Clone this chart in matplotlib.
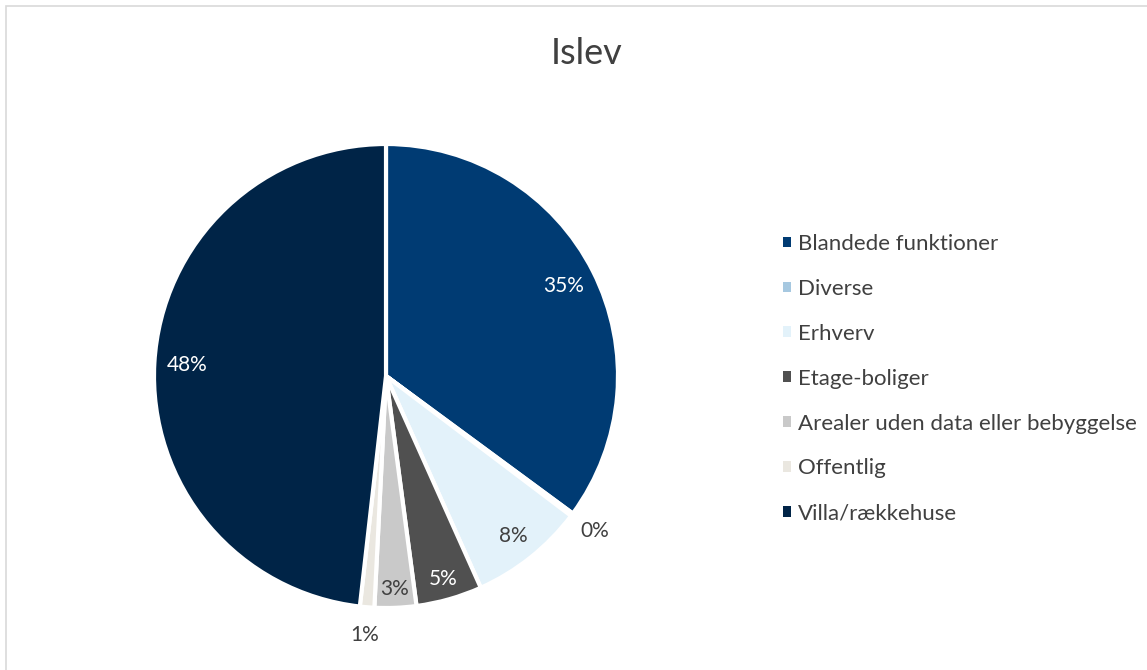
import matplotlib
matplotlib.use("Agg")
import matplotlib.pyplot as plt
import numpy as np
from matplotlib.patches import Rectangle, Patch

categories = ["Blandede funktioner", "Diverse", "Erhverv", "Etage-boliger",
              "Arealer uden data eller bebyggelse", "Offentlig", "Villa/rækkehuse"]
values = [35.1, 0.2, 8.0, 4.6, 2.9, 1.0, 48.2]
labels_pct = ["35%", "0%", "8%", "5%", "3%", "1%", "48%"]
colors = ["#003B73", "#A6C8E0", "#E3F2FA", "#505050", "#C9C9C9", "#EAE7E0", "#002447"]
label_colors = ["white", "#404040", "#404040", "white", "#404040", "#404040", "white"]

plt.rcParams['font.family'] = ['Lato', 'DejaVu Sans']
W, H = 1147, 670
fig = plt.figure(figsize=(W / 100, H / 100), dpi=100)

# chart area border
fig.patches.append(Rectangle((6 / W, -0.01), 1.0, (H - 6) / H + 0.01, transform=fig.transFigure,
                             fill=False, edgecolor="#D9D9D9", linewidth=1.2))

cx, cy, R = 386, 376, 232
ax = fig.add_axes([(cx - R) / W, (H - cy - R) / H, 2 * R / W, 2 * R / H])
wedges, _ = ax.pie(values, colors=colors, startangle=90, counterclock=False, radius=1,
                   wedgeprops=dict(edgecolor="white", linewidth=3))
ax.set_xlim(-1, 1)
ax.set_ylim(-1, 1)
ax.set_aspect("equal")
ax.axis("off")

total = sum(values)
cum = 0
for v, lab, lc in zip(values, labels_pct, label_colors):
    mid = 90 - (cum + v / 2) / total * 360
    cum += v
    frac = v / total
    if frac > 0.2:
        r = 0.86
    elif frac > 0.02:
        r = 0.94 - 0.7 * frac
    else:
        r = 1.12
        lc = "#404040"
    ax.text(r * np.cos(np.radians(mid)), r * np.sin(np.radians(mid)), lab,
            ha="center", va="center", fontsize=15, color=lc, clip_on=False)

fig.text(587 / W, 1 - 53 / H, "Islev", ha="center", va="center", fontsize=26, color="#404040")

handles = [Patch(facecolor=c, edgecolor="none") for c in colors]
leg = fig.legend(handles, categories, loc="upper left", bbox_to_anchor=(783 / W, 1 - 234 / H),
                 frameon=False, fontsize=16, handlelength=0.36, handleheight=0.36,
                 handletextpad=0.3, labelspacing=1.12, labelcolor="#404040",
                 borderpad=0, borderaxespad=0)

fig.savefig("out.png", dpi=100)
